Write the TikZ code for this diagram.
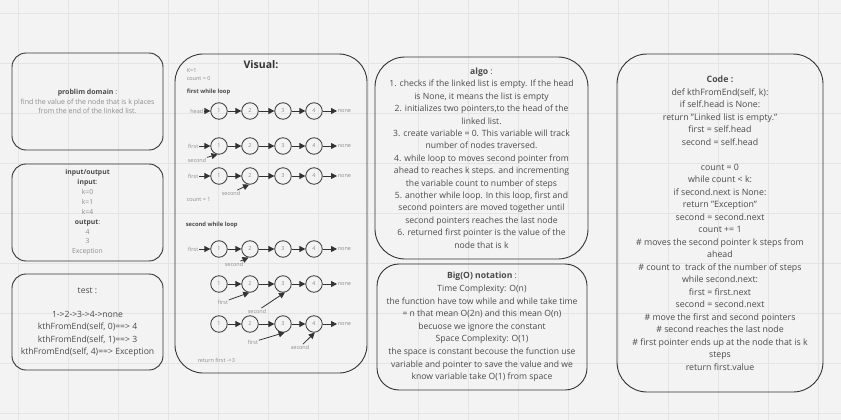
\documentclass[tikz,border=0pt]{standalone}
\usepackage{fontspec}
\setmainfont{Open Sans}
\usetikzlibrary{arrows.meta}
\definecolor{bg}{HTML}{F3F3F3}
\definecolor{gridc}{HTML}{E4E4E4}
\definecolor{ink}{HTML}{333333}
\definecolor{txt}{HTML}{4A4A4A}
\definecolor{pale}{HTML}{8C8C8C}
\tikzset{panel/.style={draw=ink,line width=0.9pt,rounded corners=14pt,inner sep=0pt,align=center},
	listnode/.style={shape=circle,draw=ink,line width=0.8pt,minimum size=16.5pt,inner sep=0pt,
		text=pale,font=\fontsize{5.5}{6}\selectfont},
	lbl/.style={text=pale,font=\fontsize{5.5}{6}\selectfont,inner sep=0.6pt},
	boldlbl/.style={text=txt,font=\fontsize{5.8}{6}\selectfont\bfseries,inner sep=0.6pt,anchor=west},
	link/.style={draw=ink,line width=0.8pt,-{Triangle[length=6pt,width=6pt]}}}

\begin{document}
\begin{tikzpicture}[x=1pt,y=-1pt]
	\useasboundingbox (0,0) rectangle (841,420);
	\fill[bg] (0,0) rectangle (841,420);
	\foreach \gx in {18,68,...,818} \draw[gridc,line width=0.5pt] (\gx,0) -- (\gx,420);
	\foreach \gy in {13,63,...,413} \draw[gridc,line width=0.5pt] (0,\gy) -- (841,\gy);

	% left column
	\node[panel,minimum width=151pt,minimum height=97pt,text=pale,font=\fontsize{7}{9.7}\selectfont] (domain) at (87.5,101.5)
		{\textcolor{txt}{\textbf{problim domain} :}\\find the value of the node that is k places\\from the end of the linked list.};
	\node[panel,minimum width=151pt,minimum height=97pt,text=pale,font=\fontsize{6.8}{9.9}\selectfont] (io) at (87.5,212.5)
		{\textcolor{txt}{\textbf{input/output}}\\\textcolor{txt}{\textbf{input}:}\\k=0\\k=1\\k=4\\\textcolor{txt}{\textbf{output}:}\\4\\3\\Exception};
	\node[panel,minimum width=151pt,minimum height=96pt,text=txt,font=\fontsize{8.6}{12.2}\selectfont] (test) at (87.5,322)
		{test :\\[12.2pt]1->2->3->4->none\\kthFromEnd(self, 0)==> 4\\kthFromEnd(self, 1)==> 3\\kthFromEnd(self, 4)==> Exception};

	% visual
	\node[panel,rounded corners=28pt,minimum width=192pt,minimum height=319pt] (visual) at (271,213.5) {};
	\node[text=ink,font=\fontsize{10.5}{12}\selectfont\bfseries] (vtitle) at (261,65) {Visual:};
	\node[lbl,anchor=west] (kval) at (186,71) {K=1};
	\node[lbl,anchor=west] (count0) at (186,79) {count = 0};
	\node[boldlbl] (loop1) at (186,92) {first while loop};

	\node[lbl,anchor=east] (ahead) at (204,111) {head};
	\node[listnode] (a1) at (219,111) {1};
	\node[listnode] (a2) at (250,111) {2};
	\node[listnode] (a3) at (283,111) {3};
	\node[listnode] (a4) at (314,111) {4};
	\node[lbl,anchor=west] (anone) at (337,111) {none};

	\node[lbl,anchor=east] (bfirst) at (199,146) {first};
	\node[lbl] (bsecond) at (197,160) {second};
	\node[listnode] (b1) at (219,146) {1};
	\node[listnode] (b2) at (250,146) {2};
	\node[listnode] (b3) at (283,146) {3};
	\node[listnode] (b4) at (314,146) {4};
	\node[lbl,anchor=west] (bnone) at (337,146) {none};

	\node[lbl,anchor=east] (cfirst) at (199,176) {first};
	\node[lbl] (csecond) at (231,193) {second};
	\node[listnode] (c1) at (219,176) {1};
	\node[listnode] (c2) at (250,176) {2};
	\node[listnode] (c3) at (283,176) {3};
	\node[listnode] (c4) at (314,176) {4};
	\node[lbl,anchor=west] (cnone) at (337,176) {none};
	\node[lbl,anchor=west] (count1) at (186,200) {count = 1};

	\node[boldlbl] (loop2) at (185,225) {second while loop};
	\node[lbl,anchor=east] (dfirst) at (199,249) {first};
	\node[lbl] (dsecond) at (234,264) {second};
	\node[listnode] (d1) at (219,249) {1};
	\node[listnode] (d2) at (250,249) {2};
	\node[listnode] (d3) at (283,249) {3};
	\node[listnode] (d4) at (314,249) {4};
	\node[lbl,anchor=west] (dnone) at (337,249) {none};

	\node[lbl] (efirst) at (223,302) {first};
	\node[lbl] (esecond) at (257,311) {second};
	\node[listnode] (e1) at (219,284) {1};
	\node[listnode] (e2) at (250,284) {2};
	\node[listnode] (e3) at (283,284) {3};
	\node[listnode] (e4) at (314,284) {4};
	\node[lbl,anchor=west] (enone) at (337,284) {none};

	\node[lbl] (ffirst) at (253,342) {first};
	\node[lbl] (fsecond) at (300,347) {second};
	\node[listnode] (f1) at (219,324) {1};
	\node[listnode] (f2) at (250,324) {2};
	\node[listnode] (f3) at (283,324) {3};
	\node[listnode] (f4) at (314,324) {4};
	\node[lbl,anchor=west] (fnone) at (337,324) {none};
	\node[lbl,anchor=west] (result) at (197,360) {return first ->3};

	\draw[link] (ahead) -- (a1);
	\draw[link] (a1) -- (a2);
	\draw[link] (a2) -- (a3);
	\draw[link] (a3) -- (a4);
	\draw[link] (a4) -- (anone);
	\draw[link] (bfirst) -- (b1);
	\draw[link] (bsecond) -- (b1.-100);
	\draw[link] (b1) -- (b2);
	\draw[link] (b2) -- (b3);
	\draw[link] (b3) -- (b4);
	\draw[link] (b4) -- (bnone);
	\draw[link] (cfirst) -- (c1);
	\draw[link] (csecond) -- (c2.-96);
	\draw[link] (c1) -- (c2);
	\draw[link] (c2) -- (c3);
	\draw[link] (c3) -- (c4);
	\draw[link] (c4) -- (cnone);
	\draw[link] (dfirst) -- (d1);
	\draw[link] (dsecond) -- (d2.-100);
	\draw[link] (d1) -- (d2);
	\draw[link] (d2) -- (d3);
	\draw[link] (d3) -- (d4);
	\draw[link] (d4) -- (dnone);
	\draw[link] (efirst) -- (e2.-95);
	\draw[link] (esecond) -- (e3.-77);
	\draw[link] (e1) -- (e2);
	\draw[link] (e2) -- (e3);
	\draw[link] (e3) -- (e4);
	\draw[link] (e4) -- (enone);
	\draw[link] (ffirst) -- (f3.-79);
	\draw[link] (fsecond) -- (f4.-85);
	\draw[link] (f1) -- (f2);
	\draw[link] (f2) -- (f3);
	\draw[link] (f3) -- (f4);
	\draw[link] (f4) -- (fnone);

	% algo and complexity
	\node[panel,rounded corners=30pt,minimum width=213pt,minimum height=202pt,text=txt,font=\fontsize{8.6}{12.4}\selectfont] (algo) at (481.5,158)
		{\textbf{algo} :\\1. checks if the linked list is empty. If the head\\is None, it means the list is empty\\
		2. initializes two pointers,to the head of the\\linked list.\\3. create variable = 0. This variable will track\\
		number of nodes traversed.\\4. while loop to moves second pointer from\\ahead to reaches k steps. and incrementing\\
		the variable count to number of steps\\5. another while loop. In this loop, first and\\second pointers are moved together until\\
		second pointers reaches the last node\\6. returned first pointer is the value of the\\node that is k};
	\node[panel,rounded corners=22pt,minimum width=210pt,minimum height=126pt,text=txt,font=\fontsize{8.6}{12.6}\selectfont] (bigo) at (482,327)
		{\textbf{Big(O) notation} :\\Time Complexity: O(n)\\the function have tow while and while take time\\= n that mean O(2n) and this mean O(n)\\
		becuose we ignore the constant\\Space Complexity: O(1)\\the space is constant becouse the function use\\
		variable and pointer to save the value and we\\know variable take O(1) from space};

	% code
	\node[panel,rounded corners=30pt,minimum width=206pt,minimum height=338pt,text=txt,font=\fontsize{8.8}{12.5}\selectfont] (code) at (720,223)
		{\textbf{Code :}\\def kthFromEnd(self, k):\\if self.head is None:\\return "Linked list is empty."\\first = self.head\\
		second = self.head\\[12.5pt]count = 0\\while count < k:\\if second.next is None:\\return "Exception"\\second = second.next\\
		count += 1\\\# moves the second pointer k steps from\\ahead\\\# count to\ \ track of the number of steps\\while second.next:\\
		first = first.next\\second = second.next\\\# move the first and second pointers\\\# second reaches the last node\\
		\# first pointer ends up at the node that is k\\steps\\return first.value};
\end{tikzpicture}
\end{document}
